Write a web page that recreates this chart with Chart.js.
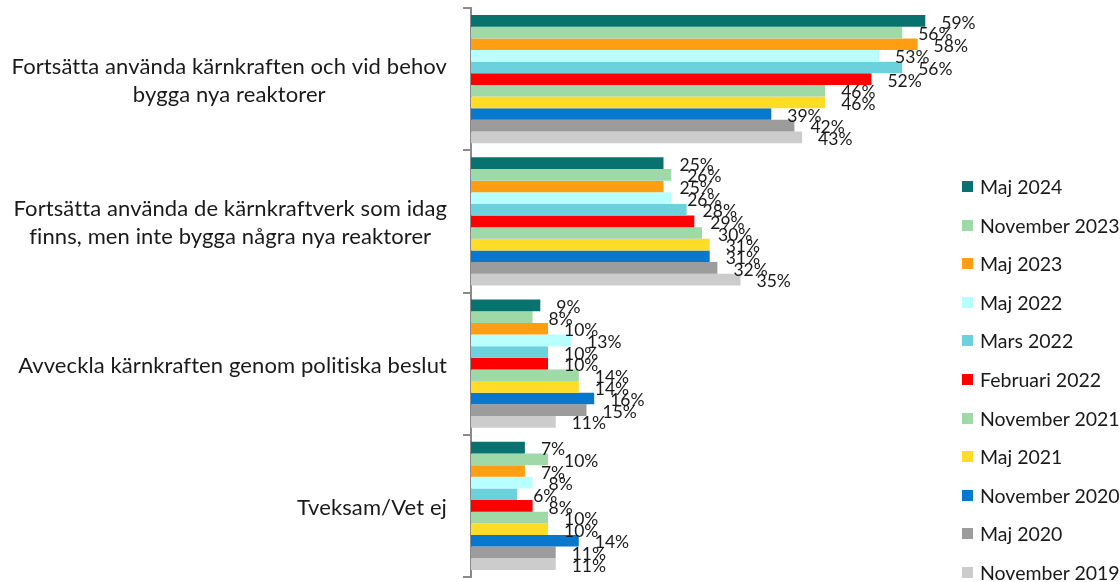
<!DOCTYPE html>
<html>
<head>
<meta charset="utf-8">
<script src="https://cdn.jsdelivr.net/npm/chart.js@4.4.1/dist/chart.umd.min.js"></script>
<style>
  body { margin: 0; background: #fff; }
  #wrap { position: relative; width: 1120px; height: 582px; }
  #legend { position: absolute; left: 962px; top: 0; font-family: Lato, sans-serif; font-size: 19.5px; color: #1a1a1a; }
  .item { position: absolute; white-space: nowrap; height: 20px; line-height: 20px; }
  .item span.box { position: absolute; left: 0; top: 4px; width: 11px; height: 11px; }
  .item span.txt { position: absolute; left: 18px; top: 0; }
</style>
</head>
<body>
<div id="wrap">
  <canvas id="chart" width="1120" height="582"></canvas>
  <div id="legend"></div>
</div>
<script>
// categories (each entry = lines of the label)
var categories = [
  ['Fortsätta använda kärnkraften och vid behov', 'bygga nya reaktorer'],
  ['Fortsätta använda de kärnkraftverk som idag', 'finns, men inte bygga några nya reaktorer'],
  ['Avveckla kärnkraften genom politiska beslut'],
  ['Tveksam/Vet ej']
];

var seriesNames = ['Maj 2024', 'November 2023', 'Maj 2023', 'Maj 2022', 'Mars 2022', 'Februari 2022',
  'November 2021', 'Maj 2021', 'November 2020', 'Maj 2020', 'November 2019'];

var maj2024 = [59, 25, 9, 7];
var nov2023 = [56, 26, 8, 10];
var maj2023 = [58, 25, 10, 7];
var maj2022 = [53, 26, 13, 8];
var mars2022 = [56, 28, 10, 6];
var feb2022 = [52, 29, 10, 8];
var nov2021 = [46, 30, 14, 10];
var maj2021 = [46, 31, 14, 10];
var nov2020 = [39, 31, 16, 14];
var maj2020 = [42, 32, 15, 11];
var nov2019 = [43, 35, 11, 11];

var seriesValues = [maj2024, nov2023, maj2023, maj2022, mars2022, feb2022, nov2021, maj2021, nov2020, maj2020, nov2019];
var colors = ['#08736e', '#a0d9a8', '#ff9e12', '#b8ffff', '#6bd2dd', '#ff0000',
  '#a0d9a8', '#ffdc28', '#0878cc', '#9c9c9c', '#cccccc'];

var FONT = 'Lato, sans-serif';

// value labels next to each bar
var valueLabels = {
  id: 'valueLabels',
  afterDatasetsDraw: function (chart) {
    var ctx = chart.ctx;
    ctx.save();
    ctx.font = '17.5px ' + FONT;
    ctx.fillStyle = '#1a1a1a';
    ctx.textAlign = 'left';
    ctx.textBaseline = 'middle';
    chart.data.datasets.forEach(function (ds, i) {
      chart.getDatasetMeta(i).data.forEach(function (bar, j) {
        ctx.fillText(ds.data[j] + '%', bar.x + 16, bar.y + 2);
      });
    });
    ctx.restore();
  }
};

// category labels: multi-line blocks centred, right edge of widest line near the axis
var categoryLabels = {
  id: 'categoryLabels',
  afterDraw: function (chart) {
    var ctx = chart.ctx;
    var y = chart.scales.y;
    var rightEdge = y.right - 24;
    ctx.save();
    ctx.font = '22px ' + FONT;
    ctx.letterSpacing = '0.1px'; // avoids the Lato "ti"/"ft" ligatures
    ctx.fillStyle = '#1a1a1a';
    ctx.textAlign = 'center';
    ctx.textBaseline = 'middle';
    categories.forEach(function (lines, i) {
      var widest = 0;
      lines.forEach(function (l) { widest = Math.max(widest, ctx.measureText(l).width); });
      var cx = rightEdge - widest / 2;
      var cy = y.getPixelForValue(i) + 2;
      var lh = 28;
      lines.forEach(function (l, k) {
        ctx.fillText(l, cx, cy + (k - (lines.length - 1) / 2) * lh);
      });
    });
    ctx.restore();
  }
};

var datasets = seriesNames.map(function (name, i) {
  return {
    label: name,
    data: seriesValues[i],
    backgroundColor: colors[i],
    borderWidth: 0,
    categoryPercentage: 0.9,
    barPercentage: 1.0
  };
});

new Chart(document.getElementById('chart').getContext('2d'), {
  type: 'bar',
  data: {
    labels: categories.map(function (c) { return c.join(' '); }),
    datasets: datasets
  },
  options: {
    indexAxis: 'y',
    responsive: false,
    animation: false,
    layout: { padding: { top: 8, bottom: 5, left: 0, right: 187 } },
    plugins: {
      legend: { display: false },
      tooltip: { enabled: false }
    },
    scales: {
      x: { display: false, min: 0, max: 60 },
      y: {
        ticks: { display: false },
        grid: { drawOnChartArea: false, drawTicks: true, tickLength: 8, color: '#8a8a8a', lineWidth: 2 },
        border: { color: '#8a8a8a', width: 2 },
        afterFit: function (scale) { scale.width = 471; }
      }
    }
  },
  plugins: [valueLabels, categoryLabels]
});

// legend built from the series arrays
var legend = document.getElementById('legend');
seriesNames.forEach(function (name, i) {
  var d = document.createElement('div');
  d.className = 'item';
  d.style.top = (177 + i * 38.6) + 'px';
  d.innerHTML = '<span class="box" style="background:' + colors[i] + '"></span><span class="txt">' + name + '</span>';
  legend.appendChild(d);
});
</script>
</body>
</html>
